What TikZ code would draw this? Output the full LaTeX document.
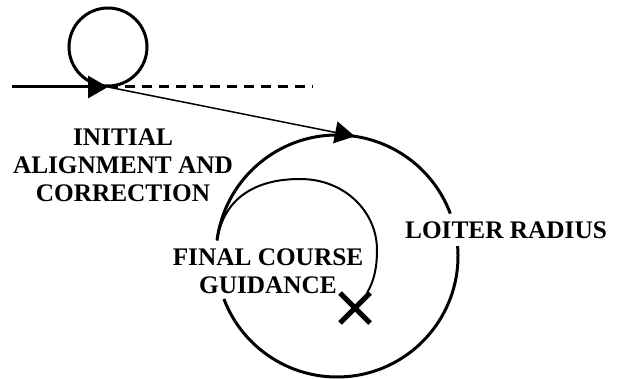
\documentclass[tikz,border=0pt]{standalone}
\usepackage{fontspec}
\setmainfont{Liberation Serif}
\usetikzlibrary{arrows.meta,calc}
\begin{document}
\begin{tikzpicture}[x=1pt,y=1pt,
  lbl/.style={font=\fontsize{25.3}{28}\selectfont\bfseries, align=center, inner sep=0pt},
  thickline/.style={line width=3pt},
  bigtip/.style={-{Triangle[length=20pt,width=22pt]}}]
\useasboundingbox (0,0) rectangle (618,-379);
% coordinates
\coordinate (c1) at (108,-47);
\coordinate (start) at (12,-87);
\coordinate (p) at (108,-87);
\coordinate (dend) at (313,-87);
\coordinate (C) at (337,-256);
\coordinate (top) at ($(C)+(81.5:121)$);
\coordinate (a1) at ($(C)+(172.6:121)$);
\coordinate (a2) at ($(C)+(4.7:121)$);
\coordinate (xc) at (355,-308);
% small loop
\draw[thickline] (c1) circle[radius=39];
% incoming line with arrow
\draw[thickline, bigtip] (start) -- (p);
\draw[thickline, dash pattern=on 10pt off 7pt] (p) -- (dend);
% loiter circle (with gaps for labels)
\draw[thickline] (a1) arc[start angle=172.6, end angle=20.5, radius=121];
\draw[thickline] (a2) arc[start angle=4.7, end angle=-159.2, radius=121];
% arrow to loiter circle
\draw[line width=1.5pt, bigtip] (p) -- (top);
% final course guidance curve
\draw[line width=2pt] (a1) .. controls (224,-196) and (258,-179) .. (300,-179)
  .. controls (345,-179) and (377,-212) .. (377,-250)
  .. controls (377,-268) and (374,-281) .. (367,-293);
% target cross
\draw[line width=5pt] ($(xc)+(-15,15)$) -- ($(xc)+(15,-15)$);
\draw[line width=5pt] ($(xc)+(-15,-15)$) -- ($(xc)+(15,15)$);
% labels
\node[lbl] (init) at (123,-165) {INITIAL\\ALIGNMENT AND\\CORRECTION};
\node[lbl] (loiter) at (506,-230) {LOITER RADIUS};
\node[lbl] (fcg) at (268,-271) {FINAL COURSE\\GUIDANCE};
\end{tikzpicture}
\end{document}
